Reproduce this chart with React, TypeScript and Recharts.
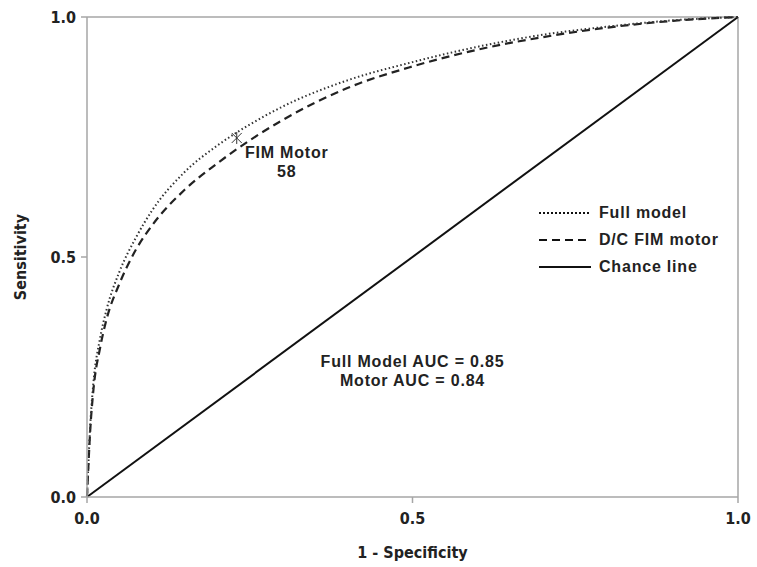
import React from 'react'
import {
  LineChart,
  Line,
  XAxis,
  YAxis,
  ReferenceDot,
  ReferenceLine,
} from 'recharts'

const FPR = [0, 0.005, 0.01, 0.02, 0.03, 0.05, 0.075, 0.1, 0.15, 0.2, 0.25, 0.3, 0.4, 0.5, 0.6, 0.7, 0.8, 0.9, 1.0]
const FULL_TPR = [0, 0.15, 0.24, 0.33, 0.39, 0.47, 0.54, 0.597, 0.677, 0.732, 0.776, 0.813, 0.868, 0.906, 0.938, 0.963, 0.98, 0.993, 1.0]
const MOTOR_TPR = [0, 0.14, 0.225, 0.31, 0.37, 0.445, 0.515, 0.566, 0.64, 0.695, 0.743, 0.785, 0.852, 0.897, 0.932, 0.958, 0.978, 0.992, 1.0]
const CHANCE_X = [0, 1]
const TICKS = [0, 0.5, 1]
const CUTOFF = { x: 0.23, y: 0.748, label: ['FIM Motor', '58'] }
const AUC_TEXT = ['Full  Model AUC = 0.85', 'Motor AUC = 0.84']

const fullData = FPR.map((x, i) => ({ x, y: FULL_TPR[i] }))
const motorData = FPR.map((x, i) => ({ x, y: MOTOR_TPR[i] }))
const chanceData = CHANCE_X.map((x) => ({ x, y: x }))

const NARROW = '"DejaVu Sans Condensed", "Liberation Sans Narrow", "Liberation Sans", Arial, sans-serif'
const SANS = '"Liberation Sans", Arial, sans-serif'
const AXIS_GRAY = '#a6a6a6'
const TEXT = '#222'

const legendItems = [
  { name: 'Full model', dash: '2 2' },
  { name: 'D/C FIM motor', dash: '8 5' },
  { name: 'Chance line', dash: undefined },
]

function LegendBox() {
  return (
    <div
      style={{
        position: 'absolute',
        left: 539,
        top: 199,
        fontFamily: SANS,
        fontWeight: 'bold',
        fontSize: 16,
        letterSpacing: 0.8,
        color: TEXT,
      }}
    >
      {legendItems.map((it) => (
        <div key={it.name} style={{ display: 'flex', alignItems: 'center', height: 27 }}>
          <svg width={52} height={6} style={{ marginRight: 8 }}>
            <line x1={0} y1={3} x2={52} y2={3} stroke="#111" strokeWidth={2} strokeDasharray={it.dash} />
          </svg>
          <span>{it.name}</span>
        </div>
      ))}
    </div>
  )
}

function StarMark(props: any) {
  const { cx, cy } = props
  const s = 5
  return (
    <g stroke="#333" strokeWidth={1}>
      <line x1={cx - s} y1={cy - s} x2={cx + s} y2={cy + s} />
      <line x1={cx - s} y1={cy + s} x2={cx + s} y2={cy - s} />
      <line x1={cx} y1={cy - s - 1} x2={cx} y2={cy + s + 1} />
    </g>
  )
}

function CutoffLabel(props: any) {
  const { viewBox } = props
  const x = viewBox.x + viewBox.width / 2
  const y = viewBox.y + viewBox.height / 2
  return (
    <text fontFamily={SANS} fontWeight="bold" fontSize={16} letterSpacing={0.8} fill={TEXT} textAnchor="middle">
      <tspan x={x + 50} y={y + 20}>{CUTOFF.label[0]}</tspan>
      <tspan x={x + 50} y={y + 39}>{CUTOFF.label[1]}</tspan>
    </text>
  )
}

function AucLabel(props: any) {
  const { viewBox } = props
  const x = viewBox.x + viewBox.width / 2
  const y = viewBox.y + viewBox.height / 2
  return (
    <text fontFamily={SANS} fontWeight="bold" fontSize={16} letterSpacing={0.8} fill={TEXT} textAnchor="middle">
      <tspan x={x} y={y}>{AUC_TEXT[0]}</tspan>
      <tspan x={x} y={y + 19}>{AUC_TEXT[1]}</tspan>
    </text>
  )
}

export default function App() {
  return (
    <div style={{ position: 'absolute', left: 0, top: 0, width: 757, height: 567, background: '#fff' }}>
      <LineChart width={757} height={567} margin={{ top: 17, right: 19, left: 0, bottom: 0 }}>
        <XAxis
          type="number"
          dataKey="x"
          domain={[0, 1]}
          ticks={TICKS}
          tickFormatter={(v: number) => v.toFixed(1)}
          stroke={AXIS_GRAY}
          strokeWidth={1.5}
          tickSize={6}
          tickMargin={10}
          height={70}
          tick={{ fontFamily: NARROW, fontWeight: 'bold', fontSize: 16, fill: TEXT }}
          label={{ value: '1 - Specificity', position: 'insideBottom', offset: 9, style: { fontFamily: NARROW, fontWeight: 'bold', fontSize: 16, fill: TEXT } }}
        />
        <YAxis
          type="number"
          dataKey="y"
          domain={[0, 1]}
          ticks={TICKS}
          tickFormatter={(v: number) => v.toFixed(1)}
          stroke={AXIS_GRAY}
          strokeWidth={1.5}
          tickSize={6}
          tickMargin={5}
          width={87}
          tick={{ fontFamily: NARROW, fontWeight: 'bold', fontSize: 16, fill: TEXT }}
          label={{ value: 'Sensitivity', angle: -90, position: 'insideLeft', offset: 20, style: { fontFamily: NARROW, fontWeight: 'bold', fontSize: 16, fill: TEXT, textAnchor: 'middle' } }}
        />
        <ReferenceLine y={1} stroke={AXIS_GRAY} strokeWidth={1.5} />
        <ReferenceLine x={1} stroke={AXIS_GRAY} strokeWidth={1.5} />
        <Line data={chanceData} dataKey="y" type="linear" stroke="#111" strokeWidth={2} dot={false} isAnimationActive={false} legendType="none" />
        <Line data={motorData} dataKey="y" type="monotone" stroke="#222" strokeWidth={2.2} strokeDasharray="8 5" dot={false} isAnimationActive={false} legendType="none" />
        <Line data={fullData} dataKey="y" type="monotone" stroke="#333" strokeWidth={2} strokeDasharray="1.5 2.5" dot={false} isAnimationActive={false} legendType="none" />
        <ReferenceDot x={CUTOFF.x} y={CUTOFF.y} r={0} shape={StarMark} label={<CutoffLabel />} />
        <ReferenceDot x={0.5} y={0.27} r={0} fill="none" stroke="none" label={<AucLabel />} />
      </LineChart>
      <LegendBox />
    </div>
  )
}
